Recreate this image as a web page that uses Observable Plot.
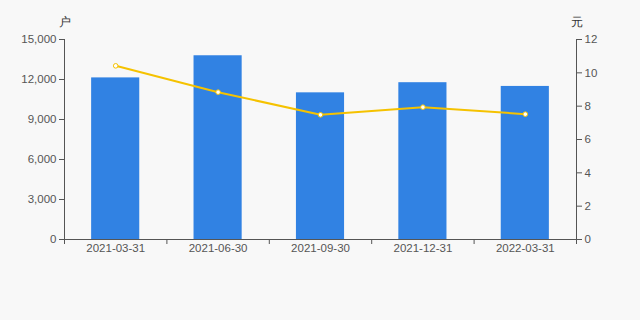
<!DOCTYPE html>
<html><head><meta charset="utf-8">
<script src="https://cdn.jsdelivr.net/npm/d3@7"></script>
<script src="https://cdn.jsdelivr.net/npm/@observablehq/plot@0.6"></script>
<style>
html,body{margin:0;padding:0;background:#f8f8f8;}
</style></head><body>
<div id="chart"></div>
<script>
const dates = ["2021-03-31","2021-06-30","2021-09-30","2021-12-31","2022-03-31"];
const holders = [12120, 13780, 11000, 11760, 11480];
const avgValue = [10.42, 8.84, 7.48, 7.94, 7.52];
const leftTicks = [0, 3000, 6000, 9000, 12000, 15000];
const rightTicks = [0, 2, 4, 6, 8, 10, 12];
const leftMax = 15000, rightMax = 12;
const k = leftMax / rightMax;

const data = dates.map((d, i) => ({i, date: d, holders: holders[i], avg: avgValue[i]}));
const halfBar = 0.235;
const font = "Liberation Sans, Arial, sans-serif";

const chart = Plot.plot({
  width: 640, height: 320,
  marginLeft: 64, marginRight: 64, marginTop: 39, marginBottom: 81,
  style: {background: "#f8f8f8", fontFamily: font, fontSize: "11px", color: "#555"},
  x: {type: "linear", domain: [-0.5, dates.length - 0.5]},
  y: {domain: [0, leftMax]},
  marks: [
    Plot.rectY(data, {x1: d => d.i - halfBar, x2: d => d.i + halfBar, y: "holders", fill: "#3182e3"}),
    Plot.line(data, {x: "i", y: d => d.avg * k, stroke: "#f5c200", strokeWidth: 2}),
    Plot.dot(data, {x: "i", y: d => d.avg * k, r: 2.3, fill: "white", stroke: "#f5c200", strokeWidth: 1}),
    Plot.axisY(leftTicks, {anchor: "left", tickSize: 5, tickPadding: 3, tickFormat: d3.format(","), label: null, stroke: "#555", fill: "#555", fontSize: 11.5}),
    Plot.ruleX([-0.5], {y1: 0, y2: leftMax, stroke: "#555"}),
    Plot.axisY(rightTicks.map(v => v * k), {anchor: "right", tickSize: 5, tickPadding: 3, tickFormat: v => v / k, label: null, stroke: "#555", fill: "#555", fontSize: 11.5}),
    Plot.ruleX([dates.length - 0.5], {y1: 0, y2: leftMax, stroke: "#555"}),
    Plot.ruleY([0], {stroke: "#555"}),
    Plot.axisX(d3.range(dates.length + 1).map(i => i - 0.5), {anchor: "bottom", tickSize: 5, tickFormat: () => "", label: null, stroke: "#555"}),
    Plot.axisX(d3.range(dates.length), {anchor: "bottom", tickSize: 0, tickPadding: 4, tickFormat: i => dates[i], label: null, fill: "#555", fontSize: 11.5}),
    Plot.text(["户"], {frameAnchor: "top-left", dy: -17, lineAnchor: "middle", textAnchor: "middle", fill: "#333", fontSize: 12}),
    Plot.text(["元"], {frameAnchor: "top-right", dy: -17, lineAnchor: "middle", textAnchor: "middle", fill: "#333", fontSize: 12})
  ]
});
document.getElementById("chart").appendChild(chart);
</script>
</body></html>
